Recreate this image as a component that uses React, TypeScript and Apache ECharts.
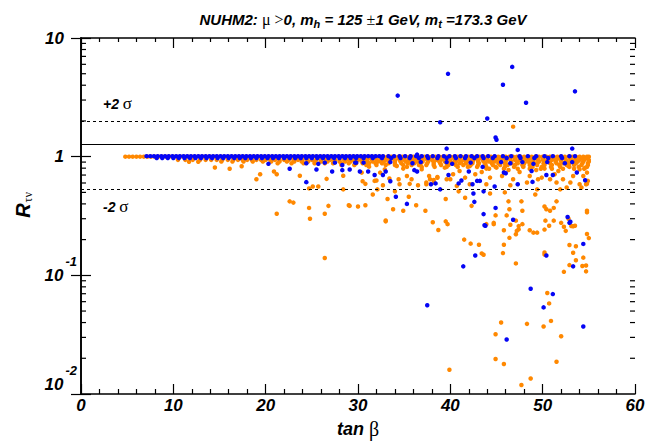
import React, { useEffect, useRef } from 'react';
import * as echarts from 'echarts';

// ---------- axes / reference lines ----------
const xMin = 0;
const xMax = 60;
const xInterval = 10;
const yTickValues = [0.01, 0.1, 1, 10];
const yTickBase = ['10', '10', '1', '10'];
const yTickExp = ['-2', '-1', '', ''];
const yMinorTicks = [0.02, 0.03, 0.04, 0.05, 0.06, 0.07, 0.08, 0.09, 0.2, 0.3, 0.4, 0.5, 0.6, 0.7, 0.8, 0.9, 2, 3, 4, 5, 6, 7, 8, 9];
const sigmaLines = [2.0, 1.27, 0.53];
const sigmaLineSolid = [false, true, false];

// ---------- dense band rows (x values at each R level) ----------
const orangeRow100X = [4.8,5.2,5.6,6.0,6.4,6.8,7.2,7.6,8.0,8.4,8.8,9.2,9.6,10.0,10.4,10.8,11.2,11.6,12.0,12.4,12.8,13.2,13.6,14.0,14.4,14.8,15.2,15.6,16.0,16.4,16.8,17.2,17.6,18.0,18.4,18.8,19.2,19.6,20.0,20.4,20.8,21.2,21.6,22.0,22.4,22.8,23.2,23.6,24.0,24.4,24.8,25.2,25.6,26.0,26.4,26.8,27.2,27.6,28.0,28.4,28.8,29.2,29.6,30.0,30.4,30.8,31.2,31.6,32.0,32.4,32.8,33.2,33.6,34.0,34.4,34.8,35.2,35.6,36.0,36.4,36.8,37.2,37.6,38.0,38.4,38.8,39.2,39.6,40.0,40.4,40.8,41.2,41.6,42.0,42.4,42.8,43.2,43.6,44.0,44.4,44.8,45.2,45.6,46.0,46.4,46.8,47.2,47.6,48.0,48.4,48.8,49.2,49.6,50.0,50.4,50.8,51.2,51.6,52.0,52.4,52.8,53.2,53.6,54.0,54.4,54.8,55.0];
const orangeRow097X = [30.2,30.8,31.4,32.0,32.6,33.2,33.8,34.4,35.0,35.6,36.2,36.8,37.4,38.0,38.6,39.2,39.8,40.4,41.0,41.6,42.2,42.8,43.4,44.0,44.6,45.2,45.8,46.4,47.0,47.6,48.2,48.8,49.4,50.0,50.6,51.2,51.8,52.4,53.0,53.6,54.2,54.8];
const orangeRow094X = [10.5,11.3,12.1,12.9,13.5,14.1,14.7,15.3,15.9,16.5,17.0,17.5,18.0,18.5,19.0,19.5,20.0,20.5,21.0,21.5,22.0,22.5,23.0,23.5,24.0,24.5,25.0,25.5,26.0,26.5,27.0,27.5,28.0,28.5,29.0,29.5,30.0,30.5,31.0,31.5,32.0,32.5,33.0,33.5,34.0,34.5,35.0,35.5,36.0,36.5,37.0,37.5,38.0,38.5,39.0,39.5,40.0,40.5,41.0,41.5,42.0,42.5,43.0,43.5,44.0,44.5,45.0,45.5,46.0,46.5,47.0,47.5,48.0,48.5,49.0,49.5,50.0,50.5,51.0,51.5,52.0,52.5,53.0,53.5,54.0,54.5,55.0];
const orangeRow091X = [15.2,16.4,17.6,18.6,19.7,20.6,21.5,22.3,23.1,23.9,24.6,25.3,26.0,26.7,27.4,28.0,28.6,29.2,29.8,30.4,31.0,31.6,32.2,32.8,33.4,34.0,34.6,35.2,35.8,36.4,37.0,37.6,38.2,38.8,39.4,40.0,40.6,41.2,41.8,42.4,43.0,43.6,44.2,44.8,45.4,46.0,46.6,47.2,47.8,48.4,49.0,49.6,50.2,50.8,51.4,52.0,52.6,53.2,53.8,54.4,55.0];
const orangeRow088X = [21.3,22.8,24.1,25.3,26.4,27.3,28.2,29.0,29.8,30.5,31.2,31.9,32.6,33.3,34.0,34.7,35.4,36.1,36.8,37.5,38.2,38.9,39.6,40.3,41.0,41.7,42.4,43.1,43.8,44.5,45.2,45.9,46.6,47.3,48.0,48.7,49.4,50.1,50.8,51.5,52.2,52.9,53.6,54.3,54.9];
const orangeRow085X = [28.2,29.6,30.9,32.0,33.0,34.0,34.9,35.8,36.6,37.4,38.2,39.0,39.8,40.6,41.4,42.2,43.0,43.8,44.6,45.4,46.2,47.0,47.8,48.6,49.4,50.2,51.0,51.8,52.6,53.4,54.2,54.9];
const orangeRow082X = [35.3,36.9,38.3,39.6,40.8,41.9,42.9,43.9,44.9,45.9,46.9,47.9,48.9,49.9,50.9,51.9,52.9,53.9,54.8];
const orangeRow079X = [44.2,45.8,47.3,48.6,49.8,51.0,52.2,53.4,54.5];
const blueRow101X = [7.1,7.5,7.9,8.3,8.7,9.1,9.5,9.9,10.3,10.7,11.1,11.5,11.9,12.3,12.7,13.1,13.5,13.9,14.3,14.7,15.1,15.5,15.9,16.3,16.7,17.1,17.5,17.9,18.3,18.7,19.1,19.5,19.9,20.3,20.7,21.1,21.5,21.9,22.3,22.7,23.1,23.5,23.9,24.3,24.7,25.1,25.5,25.9,26.3,26.7,27.1,27.5,27.9,28.3,28.7,29.1,29.5,29.9,30.3,30.7,31.1,31.5,31.9,32.3,32.7,33.3,33.9,34.5,35.1,35.7,36.3,36.9,37.5,38.1,38.7,39.3,39.9,40.5,41.1,41.7,42.3,42.9,43.5,44.1,44.8,45.7,46.6,47.5,48.4,49.3,50.2,51.1,52.0,52.9,53.5];
const blueRow097X = [8.2,8.8,9.4,10.0,10.6,11.2,11.8,12.4,13.0,13.6,14.2,14.8,15.4,16.0,16.6,17.2,17.8,18.4,19.0,19.6,20.2,20.8,21.4,22.0,22.6,23.2,23.8,24.4,25.0,25.6,26.2,26.8,27.4,28.0,28.6,29.2,29.8,30.6,31.6,32.6,33.6,34.6,35.6,36.6,37.6,38.6,39.6,40.6,41.6,42.6,43.6,44.6,46.1,47.6,49.1,50.6,52.1];

// ---------- scattered points [tanβ, R] ----------
const orangeScatter = [
  [11.7,0.905],[12.7,0.905],[14.5,0.81],[16.1,0.79],[17.4,0.83],[19.0,0.645],[19.4,0.71],[20.9,0.75],[21.2,0.71],[22.6,0.42],[23.0,0.41],[23.7,0.69],[24.7,0.54],[25.1,0.56],[25.7,0.56],[24.7,0.37],[24.8,0.30],[21.2,0.33],[26.4,0.33],[26.8,0.385],[26.6,0.65],[28.4,0.69],[28.4,0.53],[29.0,0.39],[30.0,0.38],[26.4,0.14],
  [30.5,0.62],[30.8,0.59],[32.0,0.63],[32.1,0.53],[34.0,0.51],[34.4,0.645],[31.6,0.48],[29.1,0.385],[30.8,0.39],[33.2,0.44],[33.8,0.36],[35.5,0.46],[34.9,0.35],[33.0,0.29],[36.3,0.39],[37.3,0.35],[35.6,0.59],[36.5,0.575],[37.4,0.605],[37.8,0.645],[38.2,0.605],[38.6,0.665],[39.5,0.44],[39.7,0.27],[38.1,0.28],[40.9,0.51],[41.6,0.45],[42.3,0.385],[44.3,0.49],[44.9,0.32],[44.7,0.27],[45.9,0.5],[46.3,0.42],[46.4,0.36],[46.1,0.32],[47.7,0.42],[47.8,0.35],[47.4,0.26],[49.2,0.48],[49.4,0.53],[49.5,0.645],[50.2,0.38],[50.4,0.36],[50.8,0.35],[51.2,0.37],[51.5,0.42],[51.9,0.53],[52.6,0.55],[54.2,0.55],[54.8,0.59],[54.8,0.35],[54.8,0.34],[52.8,0.30],[53.1,0.26],
  [33.0,0.285],[39.5,0.285],[38.7,0.241],[44.7,0.277],[46.5,0.267],[47.1,0.289],[47.8,0.27],[47.4,0.244],[47.2,0.237],[47.1,0.222],[48.6,0.24],[49.0,0.229],[49.4,0.229],[50.3,0.289],[50.7,0.262],[51.2,0.289],[52.0,0.277],[52.3,0.257],[52.5,0.237],[53.3,0.259],[53.5,0.262],[50.2,0.243],[41.5,0.2],[42.2,0.185],[43.1,0.181],[43.9,0.27],[45.8,0.24],[46.4,0.207],[45.8,0.181],[43.4,0.153],[43.6,0.149],[45.7,0.154],[47.1,0.126],[50.2,0.156],[50.2,0.15],[52.9,0.18],[53.6,0.176],[53.3,0.155],[53.6,0.134],[54.4,0.141],[54.8,0.223],[55.0,0.206],[52.9,0.122],[54.3,0.12],[54.7,0.121],[52.3,0.107],[54.7,0.108],
  [50.5,0.071],[50.7,0.058],[50.9,0.0413],[45.5,0.04],[48.3,0.039],[50.1,0.037],[44.9,0.0319],[52.0,0.0307],[44.9,0.0197],[45.8,0.0179],[51.5,0.0187],[39.9,0.016],[48.7,0.0135],[47.7,0.0119],
  [46.8,1.79],
  [30.4,0.734],[31.2,0.824],[31.8,0.625],[32.4,0.734],[32.9,0.782],[33.4,0.654],[34.2,0.835],[34.9,0.793],[35.3,0.688],[35.8,0.645],[36.9,0.782],[37.7,0.688],[38.2,0.637],[38.6,0.675],[39.4,0.808],[40.0,0.645],[40.3,0.711],[41.0,0.758],[41.6,0.666],[42.1,0.835],[42.7,0.711],[43.4,0.743],[43.9,0.793],[44.3,0.666],[45.0,0.808],[45.6,0.688],[46.3,0.773],[46.8,0.645],[47.5,0.743],[47.9,0.835],[48.6,0.688],[49.3,0.773],[49.9,0.666],[50.2,0.793],[50.8,0.645],[51.3,0.711],[51.7,0.758],[52.2,0.645],[52.8,0.835],[53.3,0.688],[54.0,0.782],[54.4,0.688],[54.6,0.808],[54.8,0.734],[54.9,0.625],[54.7,0.586],[54.0,0.586],[53.0,0.605],[51.5,0.605],[48.3,0.605],[46.5,0.575],[43.9,0.586],[42.1,0.586],[40.7,0.567],[39.6,0.645],[37.4,0.586],[34.5,0.586],[32.7,0.575],
];

const blueScatter = [
  [34.3,3.27],[39.75,4.99],[45.7,4.04],[46.7,5.71],[48.2,2.85],[53.5,3.55],[38.9,1.95],[44.0,2.1],[44.9,1.45],[45.0,1.39],[39.6,1.17],[47.3,1.14],[53.2,1.17],[36.4,1.04],
  [22.6,0.79],[24.4,0.61],[25.5,0.78],[27.2,0.75],[28.3,0.85],[28.3,0.77],[29.1,0.78],[29.8,0.89],[20.3,0.87],[24.4,0.88],[25.7,0.87],[26.4,0.89],[27.5,0.89],
  [29.7,0.89],[30.6,0.89],[30.2,0.75],[31.1,0.75],[31.8,0.70],[32.7,0.70],[33.0,0.75],[33.5,0.62],[35.3,0.40],[34.1,0.46],[36.1,0.77],[36.4,0.75],[37.9,0.586],[38.4,0.595],[38.9,0.53],[39.8,0.70],[40.9,0.595],[41.2,0.63],[42.0,0.75],[42.9,0.625],[43.2,0.625],[42.4,0.586],[42.5,0.49],[42.6,0.416],[43.5,0.82],[43.6,0.51],[44.9,0.37],[43.6,0.328],[43.8,0.262],[44.8,0.56],[45.8,0.735],[46.0,0.725],[46.8,0.294],[47.3,0.586],[48.9,0.613],[48.8,0.757],[50.4,0.70],[51.1,0.70],[53.7,0.735],[54.6,0.633],[52.7,0.31],[53.0,0.283],
  [33.5,0.9],[35.9,0.88],[36.8,0.9],[39.6,0.9],[40.2,0.87],[42.2,0.89],[45.5,0.9],[46.5,0.88],[47.8,0.9],[49.0,0.87],[50.5,0.9],[52.4,0.88],[53.2,0.9],
  [43.7,0.264],[42.7,0.147],[41.4,0.119],[50.4,0.147],[54.4,0.184],[52.9,0.277],[53.3,0.119],[48.7,0.077],[37.5,0.056],[51.1,0.0695],[50.1,0.0537],[54.4,0.037],[46.1,0.0288],
];

const toRow = (xs: number[], r: number) => xs.map((x) => [x, r]);

const orangeData = [
  ...toRow(orangeRow100X, 1.0),
  ...toRow(orangeRow097X, 0.97),
  ...toRow(orangeRow094X, 0.94),
  ...toRow(orangeRow091X, 0.91),
  ...toRow(orangeRow088X, 0.88),
  ...toRow(orangeRow085X, 0.85),
  ...toRow(orangeRow082X, 0.82),
  ...toRow(orangeRow079X, 0.79),
  ...orangeScatter,
];
const blueData = [
  ...toRow(blueRow101X, 1.01),
  ...toRow(blueRow097X, 0.975),
  ...blueScatter,
];

const ORANGE = '#ff8800';
const BLUE = '#0505f5';
const SANS = '"Liberation Sans", Arial, Helvetica, sans-serif';
const SERIF = '"Liberation Serif", "Times New Roman", serif';

const bi = (size: number, extra: any = {}) => ({
  fontSize: size,
  fontWeight: 'bold',
  fontStyle: 'italic',
  fontFamily: SANS,
  color: '#000',
  ...extra,
});
const sym = (size: number, extra: any = {}) => ({
  fontSize: size,
  fontWeight: 'normal',
  fontStyle: 'normal',
  fontFamily: SERIF,
  color: '#000',
  ...extra,
});

export default function App() {
  const ref = useRef<HTMLDivElement>(null);

  useEffect(() => {
    if (!ref.current) return;
    const chart = echarts.init(ref.current, undefined, { renderer: 'svg' });

    const yLabel = (v: number) => {
      const e = Math.round(Math.log10(v));
      const i = yTickValues.findIndex((t) => Math.round(Math.log10(t)) === e);
      if (i < 0) return '';
      if (yTickExp[i] === '') return `{b|${yTickBase[i]}}{pad| }`;
      if (i === 0) return `{bl|${yTickBase[i]}}{supl|${yTickExp[i]}}`;
      return `{b|${yTickBase[i]}}{sup|${yTickExp[i]}}`;
    };

    const axisLineStyle = { color: '#000', width: 1.6 };
    const tickStyle = { color: '#000', width: 1.2 };

    chart.setOption({
      animation: false,
      backgroundColor: '#fff',
      title: {
        left: 358,
        top: 4,
        textAlign: 'center',
        text: '{b|NUHM2: }{s|μ >}{b|0, m}{sub|h}{b| = 125 }{s|±}{b|1 GeV, m}{sub|t}{b| =173.3 GeV}',
        textStyle: {
          rich: {
            b: bi(15),
            s: sym(16),
            sub: bi(11, { padding: [9, 0, 0, 0] }),
          },
        },
      },
      grid: { left: 81, right: 30, top: 38, bottom: 48, containLabel: false },
      xAxis: [
        {
          type: 'value',
          min: xMin,
          max: xMax,
          interval: xInterval,
          position: 'bottom',
          axisLine: { show: true, lineStyle: axisLineStyle },
          axisTick: { show: true, inside: true, length: 10, lineStyle: tickStyle },
          minorTick: { show: true, splitNumber: 5, length: 5, lineStyle: tickStyle },
          splitLine: { show: false },
          axisLabel: { margin: 3, ...bi(17) },
          name: '{t|tan }{g|β}',
          nameLocation: 'middle',
          nameGap: 25,
          nameTextStyle: { rich: { t: bi(18), g: sym(20) } },
        },
        {
          type: 'value',
          min: xMin,
          max: xMax,
          interval: xInterval,
          position: 'top',
          axisLine: { show: true, lineStyle: axisLineStyle },
          axisTick: { show: true, inside: true, length: 10, lineStyle: tickStyle },
          minorTick: { show: true, splitNumber: 5, length: 4, lineStyle: tickStyle },
          splitLine: { show: false },
          axisLabel: { show: false },
        },
      ],
      yAxis: [
        {
          type: 'log',
          logBase: 10,
          min: 0.01,
          max: 10,
          position: 'left',
          axisLine: { show: true, lineStyle: axisLineStyle },
          axisTick: { show: true, inside: true, length: 10, lineStyle: tickStyle },
          splitLine: { show: false },
          axisLabel: {
            margin: 4,
            formatter: yLabel,
            rich: {
              b: bi(17),
              bl: bi(17, { padding: [0, 0, 20, 0] }),
              sup: bi(13, { padding: [0, 0, 28, 2] }),
              supl: bi(13, { padding: [0, 0, 48, 2] }),
              pad: { width: 13, fontSize: 13 },
            },
          },
          name: '{r|R}{s|τν}',
          nameLocation: 'middle',
          nameGap: 42,
          nameTextStyle: {
            rich: {
              r: bi(20, { padding: [0, 0, 0, 22] }),
              s: sym(12, { padding: [10, 0, 0, 1] }),
            },
          },
        },
        {
          type: 'log',
          logBase: 10,
          min: 0.01,
          max: 10,
          position: 'right',
          axisLine: { show: true, lineStyle: axisLineStyle },
          axisTick: { show: true, inside: true, length: 10, lineStyle: tickStyle },
          splitLine: { show: false },
          axisLabel: { show: false },
        },
      ],
      graphic: [
        {
          type: 'text',
          left: 103,
          top: 95,
          style: { text: '{b|+2 }{s|σ}', rich: { b: bi(14), s: sym(17) } },
        },
        {
          type: 'text',
          left: 103,
          top: 198,
          style: { text: '{b|-2 }{s|σ}', rich: { b: bi(14), s: sym(17) } },
        },
      ],
      series: [
        {
          type: 'custom',
          coordinateSystem: 'cartesian2d',
          silent: true,
          clip: false,
          data: yMinorTicks.map((v) => [xMin, v]),
          renderItem: (params: any, api: any) => {
            const v = api.value(1);
            const l = api.coord([xMin, v]);
            const r = api.coord([xMax, v]);
            return {
              type: 'group',
              children: [
                { type: 'line', shape: { x1: l[0], y1: l[1], x2: l[0] + 5, y2: l[1] }, style: { stroke: '#000', lineWidth: 1.2 } },
                { type: 'line', shape: { x1: r[0] - 5, y1: r[1], x2: r[0], y2: r[1] }, style: { stroke: '#000', lineWidth: 1.2 } },
              ],
            };
          },
        },
        {
          type: 'scatter',
          name: 'orange',
          symbol: 'circle',
          symbolSize: 4.5,
          itemStyle: { color: ORANGE, opacity: 1 },
          data: orangeData,
          silent: true,
          markLine: {
            silent: true,
            symbol: 'none',
            label: { show: false },
            data: sigmaLines.map((v, i) => ({
              yAxis: v,
              lineStyle: { color: '#000', width: 1.2, type: sigmaLineSolid[i] ? 'solid' : [3, 3] },
            })),
          },
        },
        {
          type: 'scatter',
          name: 'blue',
          symbol: 'circle',
          symbolSize: 4.5,
          itemStyle: { color: BLUE, opacity: 1 },
          data: blueData,
          silent: true,
        },
      ],
    });

    return () => chart.dispose();
  }, []);

  return <div ref={ref} style={{ position: 'fixed', left: 0, top: 0, width: 665, height: 444 }} />;
}
